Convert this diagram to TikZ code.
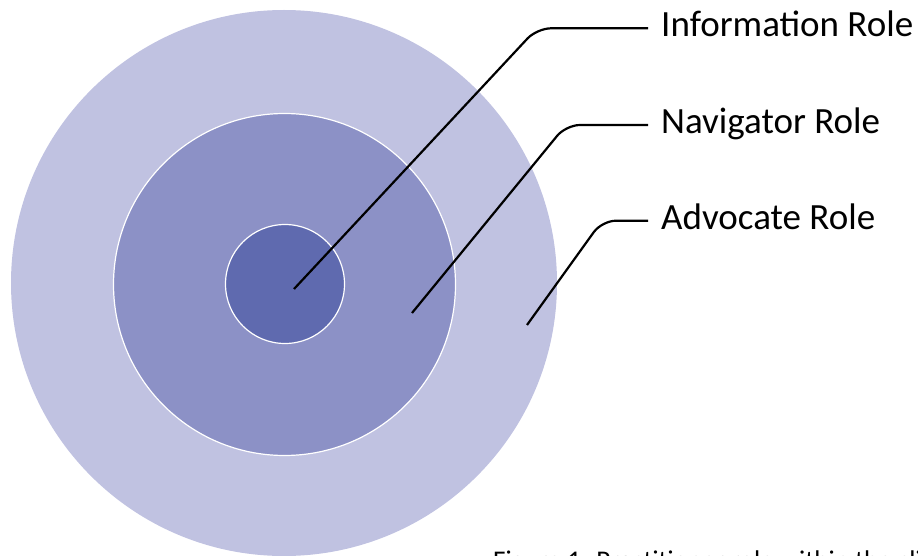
\documentclass[tikz,border=0pt]{standalone}
\usepackage{fontspec}
\setmainfont{Carlito}
\definecolor{ringA}{HTML}{C0C2E1}
\definecolor{ringB}{HTML}{8C91C6}
\definecolor{ringC}{HTML}{5F6AAF}
\begin{document}
\begin{tikzpicture}[x=1pt,y=-1pt,
  ring/.style={circle,draw=white,line width=1.2pt,inner sep=0pt},
  lbl/.style={anchor=west,inner xsep=13pt,inner ysep=0pt,text height=23pt,text depth=6pt,font=\fontsize{37}{42}\selectfont},
  leader/.style={line width=2.2pt,rounded corners=14pt}]
\useasboundingbox (0,0) rectangle (918,556);
\node[ring,fill=ringA,draw=none,minimum size=546pt] (outer) at (284,283) {};
\node[ring,fill=ringB,minimum size=342pt] (middle) at (284.5,284.5) {};
\node[ring,fill=ringC,minimum size=119pt] (inner) at (285,284) {};
\coordinate (s1) at (294,289);
\coordinate (s2) at (412,313);
\coordinate (s3) at (527,325);
\node[lbl] (l1) at (648,28.3) {Information Role};
\node[lbl] (l2) at (648,125) {Navigator Role};
\node[lbl] (l3) at (648,220.7) {Advocate Role};
\draw[leader] (s1) -- (537,28.3) -- (l1.west);
\draw[leader] (s2) -- (566,125) -- (l2.west);
\draw[leader] (s3) -- (602,220.7) -- (l3.west);
\node[anchor=base west,inner sep=0pt,font=\fontsize{27}{30}\selectfont] (cap) at (493,569) {Figure 1: Practitioner role within the clinical};
\end{tikzpicture}
\end{document}
